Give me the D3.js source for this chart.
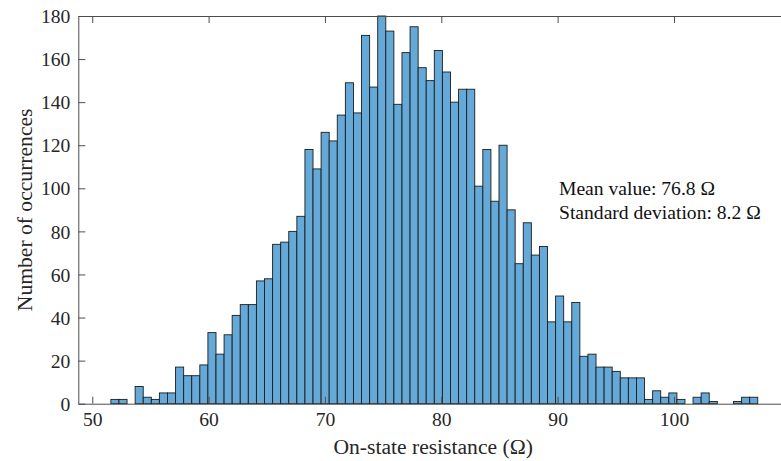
<!DOCTYPE html>
<html>
<head>
<meta charset="utf-8">
<script src="https://cdn.jsdelivr.net/npm/d3@7"></script>
<style>
  body { margin: 0; background: #fff; }
  svg { display: block; font-family: 'Liberation Serif', 'Times New Roman', serif; }
</style>
</head>
<body>
<div id="chart"></div>
<script>
// histogram counts (80 bins)
const counts = [
  2, 2, 0, 8, 3, 2, 5, 5, 17, 13, 13, 18, 33, 23, 32, 41, 46,
  46, 57, 58, 74, 75, 80, 87, 118, 109, 126, 122, 134, 149, 135, 171, 147, 180, 173, 139, 163, 175,
  156, 150, 164, 154, 140, 146, 146, 101, 118, 94, 120, 90, 65, 84, 69, 73, 38, 50, 38, 47, 22,
  23, 17, 17, 15, 12, 12, 12, 2, 6, 3, 5, 2, 0, 3, 5, 1, 0, 0, 1, 3, 3,
];
const binStart = 51.6;
const binWidth = 0.695;
const xTicks = [50, 60, 70, 80, 90, 100];
const yTicks = [0, 20, 40, 60, 80, 100, 120, 140, 160, 180];
const statLines = ['Mean value: 76.8 \u03A9', 'Standard deviation: 8.2 \u03A9'];

const size = { width: 781, height: 461 };
const margin = { top: 16, right: -7, bottom: 57.3, left: 78.3 };

const svg = d3
  .select('#chart')
  .append('svg')
  .attr('width', size.width)
  .attr('height', size.height);

const x = d3
  .scaleLinear()
  .domain([48.8, 109.8])
  .range([margin.left, size.width - margin.right]);

const y = d3
  .scaleLinear()
  .domain([0, 180])
  .range([size.height - margin.bottom, margin.top]);

const bins = counts.map((c, i) => ({
  x0: binStart + i * binWidth,
  x1: binStart + (i + 1) * binWidth,
  count: c,
}));

// Bars
svg
  .append('g')
  .selectAll('rect')
  .data(bins.filter((d) => d.count > 0))
  .enter()
  .append('rect')
  .attr('x', (d) => x(d.x0))
  .attr('width', (d) => x(d.x1) - x(d.x0))
  .attr('y', (d) => y(d.count))
  .attr('height', (d) => y(0) - y(d.count))
  .attr('fill', '#64a9d8')
  .attr('stroke', '#1c1c1c')
  .attr('stroke-width', 0.9);

/*
   Axes (MATLAB style: ticks inside, box on)
 */
const axisColor = '#4d4d4d';
const tickLen = 7;

const xAxisBottom = svg
  .append('g')
  .attr('transform', `translate(0, ${y(0)})`)
  .call(d3.axisBottom(x).tickValues(xTicks).tickSizeInner(-tickLen).tickSizeOuter(0).tickPadding(10));

const xAxisTop = svg
  .append('g')
  .attr('transform', `translate(0, ${y(180)})`)
  .call(d3.axisTop(x).tickValues(xTicks).tickSizeInner(-tickLen).tickSizeOuter(0).tickFormat(''));

const yAxisLeft = svg
  .append('g')
  .attr('transform', `translate(${margin.left}, 0)`)
  .call(d3.axisLeft(y).tickValues(yTicks).tickSizeInner(-tickLen).tickSizeOuter(0).tickPadding(8));

[xAxisBottom, xAxisTop, yAxisLeft].forEach((g) => {
  g.select('.domain').attr('stroke', axisColor).attr('stroke-width', 1);
  g.selectAll('.tick line').attr('stroke', axisColor).attr('stroke-width', 1);
  g.selectAll('.tick text')
    .attr('fill', '#262626')
    .style('font-size', '19.6px')
    .style('font-family', "'Liberation Serif', serif");
});
xAxisBottom.selectAll('.tick text').attr('dy', '0.71em').attr('y', 8);
yAxisLeft.selectAll('.tick text').attr('dy', '0.34em');

// Axis labels
svg
  .append('text')
  .text('On-state resistance (\u03A9)')
  .attr('x', (margin.left + size.width - margin.right) / 2)
  .attr('y', 454)
  .attr('text-anchor', 'middle')
  .style('font-size', '21.6px')
  .attr('fill', '#262626');

svg
  .append('text')
  .text('Number of occurrences')
  .attr('transform', `translate(32, ${(y(0) + y(180)) / 2}) rotate(-90)`)
  .attr('text-anchor', 'middle')
  .style('font-size', '21.6px')
  .attr('fill', '#262626');

// Stats annotation
svg
  .append('g')
  .selectAll('text')
  .data(statLines)
  .enter()
  .append('text')
  .text((d) => d)
  .attr('x', 559)
  .attr('y', (d, i) => 195 + i * 23.5)
  .style('font-size', '19.6px')
  .attr('fill', '#111');
</script>
</body>
</html>
